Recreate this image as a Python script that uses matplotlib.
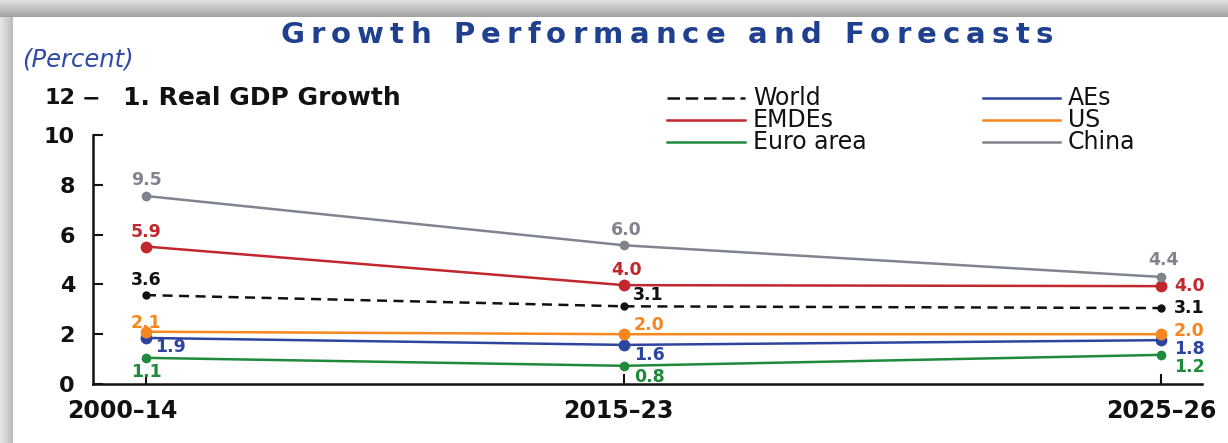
import numpy as np
import matplotlib
matplotlib.use("Agg")
import matplotlib.pyplot as plt
import matplotlib.transforms as mtransforms
from matplotlib.lines import Line2D

# ---- data (plotted positions, labels as printed) ----
periods = ["2000–14", "2015–23", "2025–26"]

world = [3.57, 3.12, 3.05]
world_labels = [3.6, 3.1, 3.1]
emdes = [5.52, 3.97, 3.93]
emdes_labels = [5.9, 4.0, 4.0]
euro = [1.05, 0.73, 1.17]
euro_labels = [1.1, 0.8, 1.2]
aes = [1.85, 1.57, 1.76]
aes_labels = [1.9, 1.6, 1.8]
us = [2.10, 2.00, 2.00]
us_labels = [2.1, 2.0, 2.0]
china = [7.55, 5.57, 4.30]
china_labels = [9.5, 6.0, 4.4]

W, H = 1228, 443
fig = plt.figure(figsize=(W / 100, H / 100), dpi=100)
fig.patch.set_facecolor("white")

# card shadow along the top and left edges
bg = np.ones((H, W, 3))
for r in range(17):
    bg[r, :, :] = 0.88 - 0.24 * r / 16
for c in range(13):
    bg[17:, c, :] = np.minimum(bg[17:, c, :], 0.90 - 0.16 * c / 12)
fig.figimage(bg, xo=0, yo=0, origin="upper", zorder=-10)


def fx(px):
    return px / W


def fy(py):
    return 1 - py / H


xpos = np.array([0.0, 1.0, 2.123])
ax = fig.add_axes([fx(93), fy(384), (1202 - 93) / W, (384 - 135) / H])
ax.set_facecolor("none")
ax.set_zorder(5)

series = [
    ("World", world, world_labels, "#111111", "--", 6),
    ("EMDEs", emdes, emdes_labels, "#c1272d", "-", 8.5),
    ("Euro area", euro, euro_labels, "#1f8a3b", "-", 7),
    ("AEs", aes, aes_labels, "#2e45a0", "-", 8.5),
    ("US", us, us_labels, "#f7861e", "-", 8.5),
    ("China", china, china_labels, "#80848e", "-", 7),
]

# label offsets in pixels (dx, dy, ha) per period
offsets = {
    "World": [(0, 15, "center"), (24, 11, "center"), (13, 0, "left")],
    "EMDEs": [(0, 15, "center"), (2, 15, "center"), (13, 0, "left")],
    "Euro area": [(0, -14, "center"), (25, -11, "center"), (13, -12, "left")],
    "AEs": [(24, -9, "center"), (25, -10, "center"), (13, -9, "left")],
    "US": [(0, 9, "center"), (25, 9, "center"), (13, 3, "left")],
    "China": [(0, 16, "center"), (2, 15, "center"), (3, 17, "center")],
}

for name, vals, labs, col, ls, ms in series:
    line, = ax.plot(xpos, vals, color=col, lw=1.8, ls=ls, marker="o", ms=ms,
                    markeredgewidth=0, zorder=3)
    if ls == "--":
        line.set_dashes((4, 2.6))
    for x, y, lab, (dx, dy, ha) in zip(xpos, vals, labs, offsets[name]):
        ax.annotate(f"{lab:.1f}", (x, y), xytext=(dx, dy), textcoords="offset pixels",
                    ha=ha, va="center", color=col, fontsize=12.5, fontweight="bold",
                    zorder=4)

ax.set_xlim(-0.111, 2.209)
ax.set_ylim(0, 10)
ax.set_yticks(range(0, 11, 2))
ax.set_xticks(xpos)
ax.set_xticklabels(periods)
ax.tick_params(axis="both", direction="in", length=7, width=1.5, colors="#111111")
ax.tick_params(axis="y", pad=13, labelsize=16)
ax.tick_params(axis="x", pad=11, labelsize=17)
for lab in ax.get_xticklabels() + ax.get_yticklabels():
    lab.set_fontweight("bold")
# the printed period labels sit slightly left of their ticks
for lab, shift in zip(ax.get_xticklabels(), [-24, -6, 0]):
    lab.set_transform(lab.get_transform() +
                      mtransforms.ScaledTranslation(shift / 100, 0, fig.dpi_scale_trans))
for s in ("top", "right"):
    ax.spines[s].set_visible(False)
for s in ("left", "bottom"):
    ax.spines[s].set_linewidth(1.8)
    ax.spines[s].set_color("#111111")

# legend, two columns laid out by hand
cols = [(667, 745, 753), (983, 1060, 1068)]
rows = [98, 120, 142]
for i, (name, vals, labs, col, ls, ms) in enumerate(series):
    x0, x1, xt = cols[i // 3]
    y = rows[i % 3]
    ln = Line2D([fx(x0), fx(x1)], [fy(y), fy(y)], transform=fig.transFigure,
                color=col, lw=1.8, ls=ls)
    if ls == "--":
        ln.set_dashes((5, 2.3))
    fig.add_artist(ln)
    fig.text(fx(xt), fy(y), name, ha="left", va="center", fontsize=17,
             color="#111111")

fig.text(fx(75), fy(98), "12", ha="right", va="center", fontsize=16,
         fontweight="bold", color="#111111")
fig.text(fx(91), fy(98), "−", ha="center", va="center", fontsize=16,
         fontweight="bold", color="#111111")
fig.text(fx(123), fy(98), "1. Real GDP Growth", ha="left", va="center",
         fontsize=18, fontweight="bold", color="#111111")
fig.text(fx(22), fy(60), "(Percent)", ha="left", va="center",
         fontsize=17.5, style="italic", color="#2d4aa5")

# title with extra letter spacing
title = "Growth Performance and Forecasts"
tkw = dict(fontsize=21, fontweight="bold", color="#1f3f8f")
renderer = fig.canvas.get_renderer()


def text_width(s):
    t = fig.text(0, 0, s, **tkw)
    w = t.get_window_extent(renderer).width
    t.remove()
    return w


base = text_width("xx")
widths = [text_width("x" + ch + "x") - base for ch in title]
left, right = 280, 1053
extra = (right - left - sum(widths)) / (len(title) - 1)
x = left
for ch, w in zip(title, widths):
    fig.text(fx(x), fy(35), ch, ha="left", va="center", **tkw)
    x += w + extra

fig.savefig("out.png", dpi=100)
